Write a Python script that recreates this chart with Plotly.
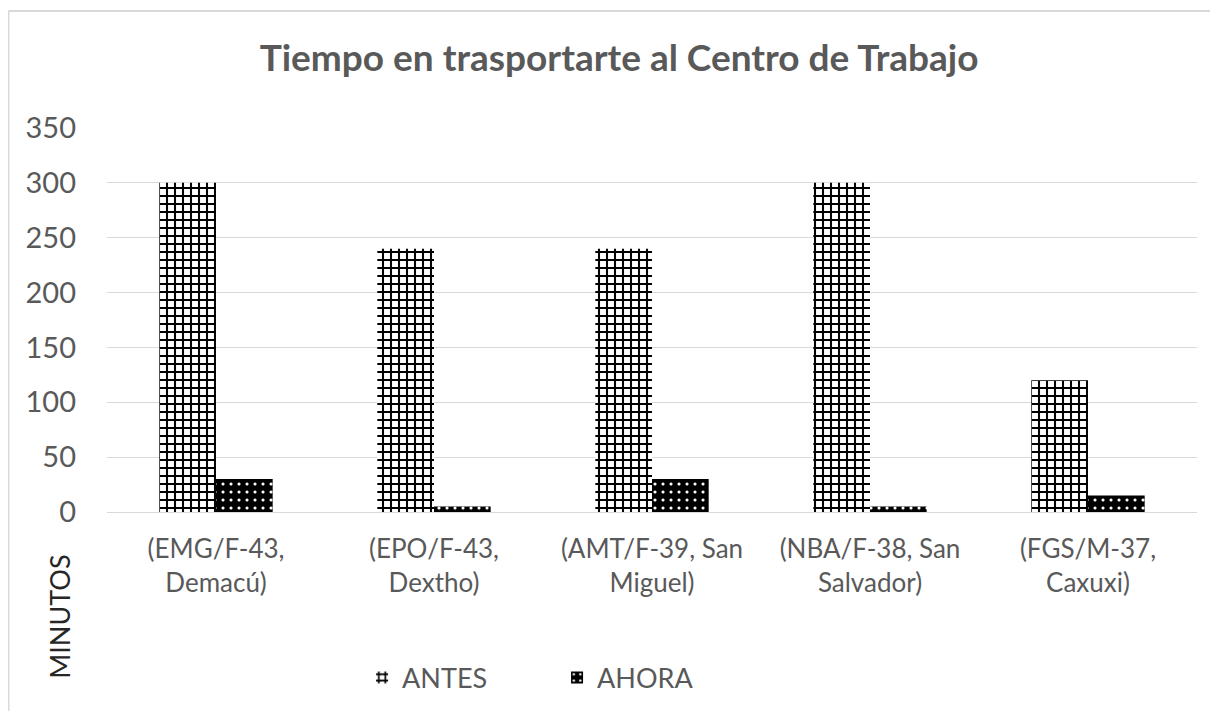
import plotly.graph_objects as go

categories = ["(EMG/F-43,<br>Demacú)", "(EPO/F-43,<br>Dextho)", "(AMT/F-39, San<br>Miguel)",
              "(NBA/F-38, San<br>Salvador)", "(FGS/M-37,<br>Caxuxi)"]
antes = [300, 240, 240, 300, 120]
ahora = [30, 5, 30, 5, 15]

FONT = "Lato"
GREY = "#595959"

fig = go.Figure()
fig.add_trace(go.Bar(name="ANTES", x=categories, y=antes,
                     marker=dict(color="white", line=dict(width=0),
                                 pattern=dict(shape="+", fgcolor="black", bgcolor="white",
                                              fgopacity=1, size=8, solidity=0.45,
                                              fillmode="overlay"))))
fig.add_trace(go.Bar(name="AHORA", x=categories, y=ahora,
                     marker=dict(color="black", line=dict(width=0),
                                 pattern=dict(shape=".", fgcolor="white", bgcolor="black",
                                              fgopacity=1, size=8, solidity=0.12,
                                              fillmode="overlay"))))

# light frame of the chart area (only left and top edges visible)
frame = "#d9d9d9"
fig.add_shape(type="line", xref="paper", yref="paper", x0=-0.0904, x1=-0.0904, y0=-0.6, y1=1.3047,
              line=dict(color=frame, width=2))
fig.add_shape(type="line", xref="paper", yref="paper", x0=-0.0904, x1=1.05, y0=1.3047, y1=1.3047,
              line=dict(color=frame, width=2))

fig.add_annotation(text="MINUTOS", textangle=-90, xref="paper", yref="paper",
                   x=-0.0431, y=-0.273, xanchor="center", yanchor="middle", showarrow=False,
                   font=dict(family=FONT, size=27, color="#262626"))

fig.update_layout(
    width=1210, height=703,
    paper_bgcolor="white", plot_bgcolor="white",
    margin=dict(l=99, r=21, t=120, b=199, autoexpand=False),
    font=dict(family=FONT, size=26, color=GREY),
    title=dict(text="<b>Tiempo en trasportarte al Centro de Trabajo</b>",
               x=0.505, xref="container", xanchor="center",
               y=1 - 50 / 703, yref="container", yanchor="middle",
               font=dict(family=FONT, size=37, color=GREY)),
    barmode="group", bargap=0.48, bargroupgap=0,
    legend=dict(orientation="h", x=0.234, xanchor="left", y=-0.432, yanchor="middle",
                font=dict(family=FONT, size=27, color=GREY),
                entrywidth=150, entrywidthmode="pixels"),
)
fig.update_yaxes(range=[0, 350], dtick=50, gridcolor="#d9d9d9", gridwidth=1,
                 zeroline=False, showline=False, ticklabelstandoff=30,
                 tickfont=dict(family=FONT, size=29, color=GREY))
fig.update_xaxes(showline=True, linecolor="#d9d9d9", linewidth=1, ticks="",
                 ticklabelstandoff=14,
                 tickfont=dict(family=FONT, size=26, color=GREY))

fig.write_html("out.html")
